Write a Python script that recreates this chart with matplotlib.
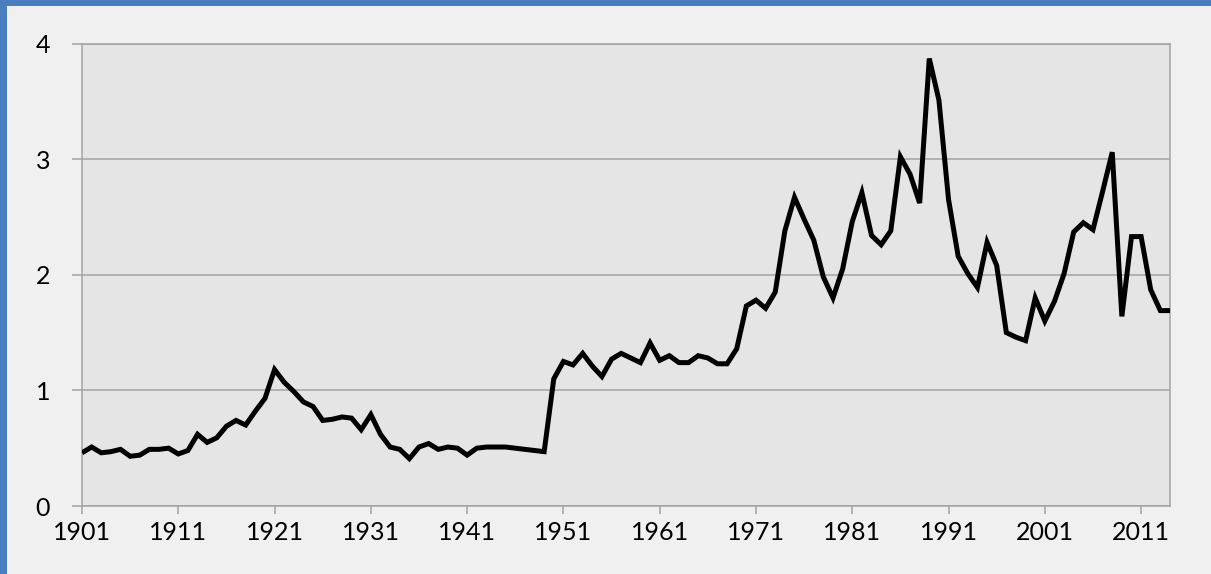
import numpy as np
import matplotlib
matplotlib.use("Agg")
import matplotlib.pyplot as plt
from matplotlib.patches import Rectangle

# ─── DATA ───────────────────────────────────────────────────────────────────
years = list(range(1901, 2015))

values = [
    # 1901-1910
    0.46, 0.51, 0.46, 0.47, 0.49, 0.43, 0.44, 0.49, 0.49, 0.50,
    # 1911-1920
    0.45, 0.48, 0.62, 0.55, 0.59, 0.69, 0.74, 0.70, 0.82, 0.93,
    # 1921-1930
    1.18, 1.07, 0.99, 0.90, 0.86, 0.74, 0.75, 0.77, 0.76, 0.66,
    # 1931-1940
    0.79, 0.62, 0.51, 0.49, 0.41, 0.51, 0.54, 0.49, 0.51, 0.50,
    # 1941-1950
    0.44, 0.50, 0.51, 0.51, 0.51, 0.50, 0.49, 0.48, 0.47, 1.10,
    # 1951-1960
    1.25, 1.22, 1.32, 1.21, 1.12, 1.27, 1.32, 1.28, 1.24, 1.41,
    # 1961-1970
    1.26, 1.30, 1.24, 1.24, 1.30, 1.28, 1.23, 1.23, 1.36, 1.73,
    # 1971-1980
    1.78, 1.71, 1.85, 2.38, 2.67, 2.48, 2.30, 1.98, 1.80, 2.05,
    # 1981-1990
    2.46, 2.71, 2.34, 2.26, 2.38, 3.02, 2.87, 2.62, 3.87, 3.51,
    # 1991-2000
    2.65, 2.16, 2.01, 1.89, 2.28, 2.08, 1.50, 1.46, 1.43, 1.80,
    # 2001-2010
    1.60, 1.77, 2.01, 2.37, 2.45, 2.39, 2.72, 3.06, 1.64, 2.33,
    # 2011-2014
    2.33, 1.87, 1.69, 1.69,
]

x_ticks = list(range(1901, 2012, 10))
y_ticks = [0, 1, 2, 3, 4]

# ─── STYLE ──────────────────────────────────────────────────────────────────
W, H, DPI = 1211, 574, 100
FIG_BG   = "#f0f0f0"
PLOT_BG  = "#e5e5e5"
GRID_CLR = "#a3a3a3"
BLUE     = "#4a7ebf"

plt.rcParams["font.family"] = ["Lato", "DejaVu Sans"]

fig = plt.figure(figsize=(W / DPI, H / DPI), dpi=DPI, facecolor=FIG_BG)
ax = fig.add_axes([82 / W, (H - 506) / H, (1170 - 82) / W, (506 - 43.5) / H])
ax.set_facecolor(PLOT_BG)

ax.plot(years, values, color="black", lw=3.6, solid_joinstyle="miter",
        solid_capstyle="butt", zorder=3)

ax.set_xlim(1901, 2014)
ax.set_ylim(0, 4)
ax.set_xticks(x_ticks)
ax.set_yticks(y_ticks)
ax.set_xticklabels([str(t) for t in x_ticks])

ax.yaxis.grid(True, color=GRID_CLR, lw=1.1)
ax.set_axisbelow(True)

for side in ["left", "bottom", "top", "right"]:
    ax.spines[side].set_color(GRID_CLR)
    ax.spines[side].set_linewidth(1.1)

ax.tick_params(axis="x", length=6, width=1.1, color=GRID_CLR,
               labelsize=18, pad=5, labelcolor="black")
ax.tick_params(axis="y", length=7, width=1.1, color=GRID_CLR,
               labelsize=18, pad=16, labelcolor="black")

# blue window border (top and left)
fig.patches.append(Rectangle((0, 1 - 6 / H), 1, 6 / H, transform=fig.transFigure,
                             facecolor=BLUE, edgecolor="none"))
fig.patches.append(Rectangle((0, 0), 7 / W, 1, transform=fig.transFigure,
                             facecolor=BLUE, edgecolor="none"))

fig.savefig("out.png", dpi=DPI, facecolor=FIG_BG)
